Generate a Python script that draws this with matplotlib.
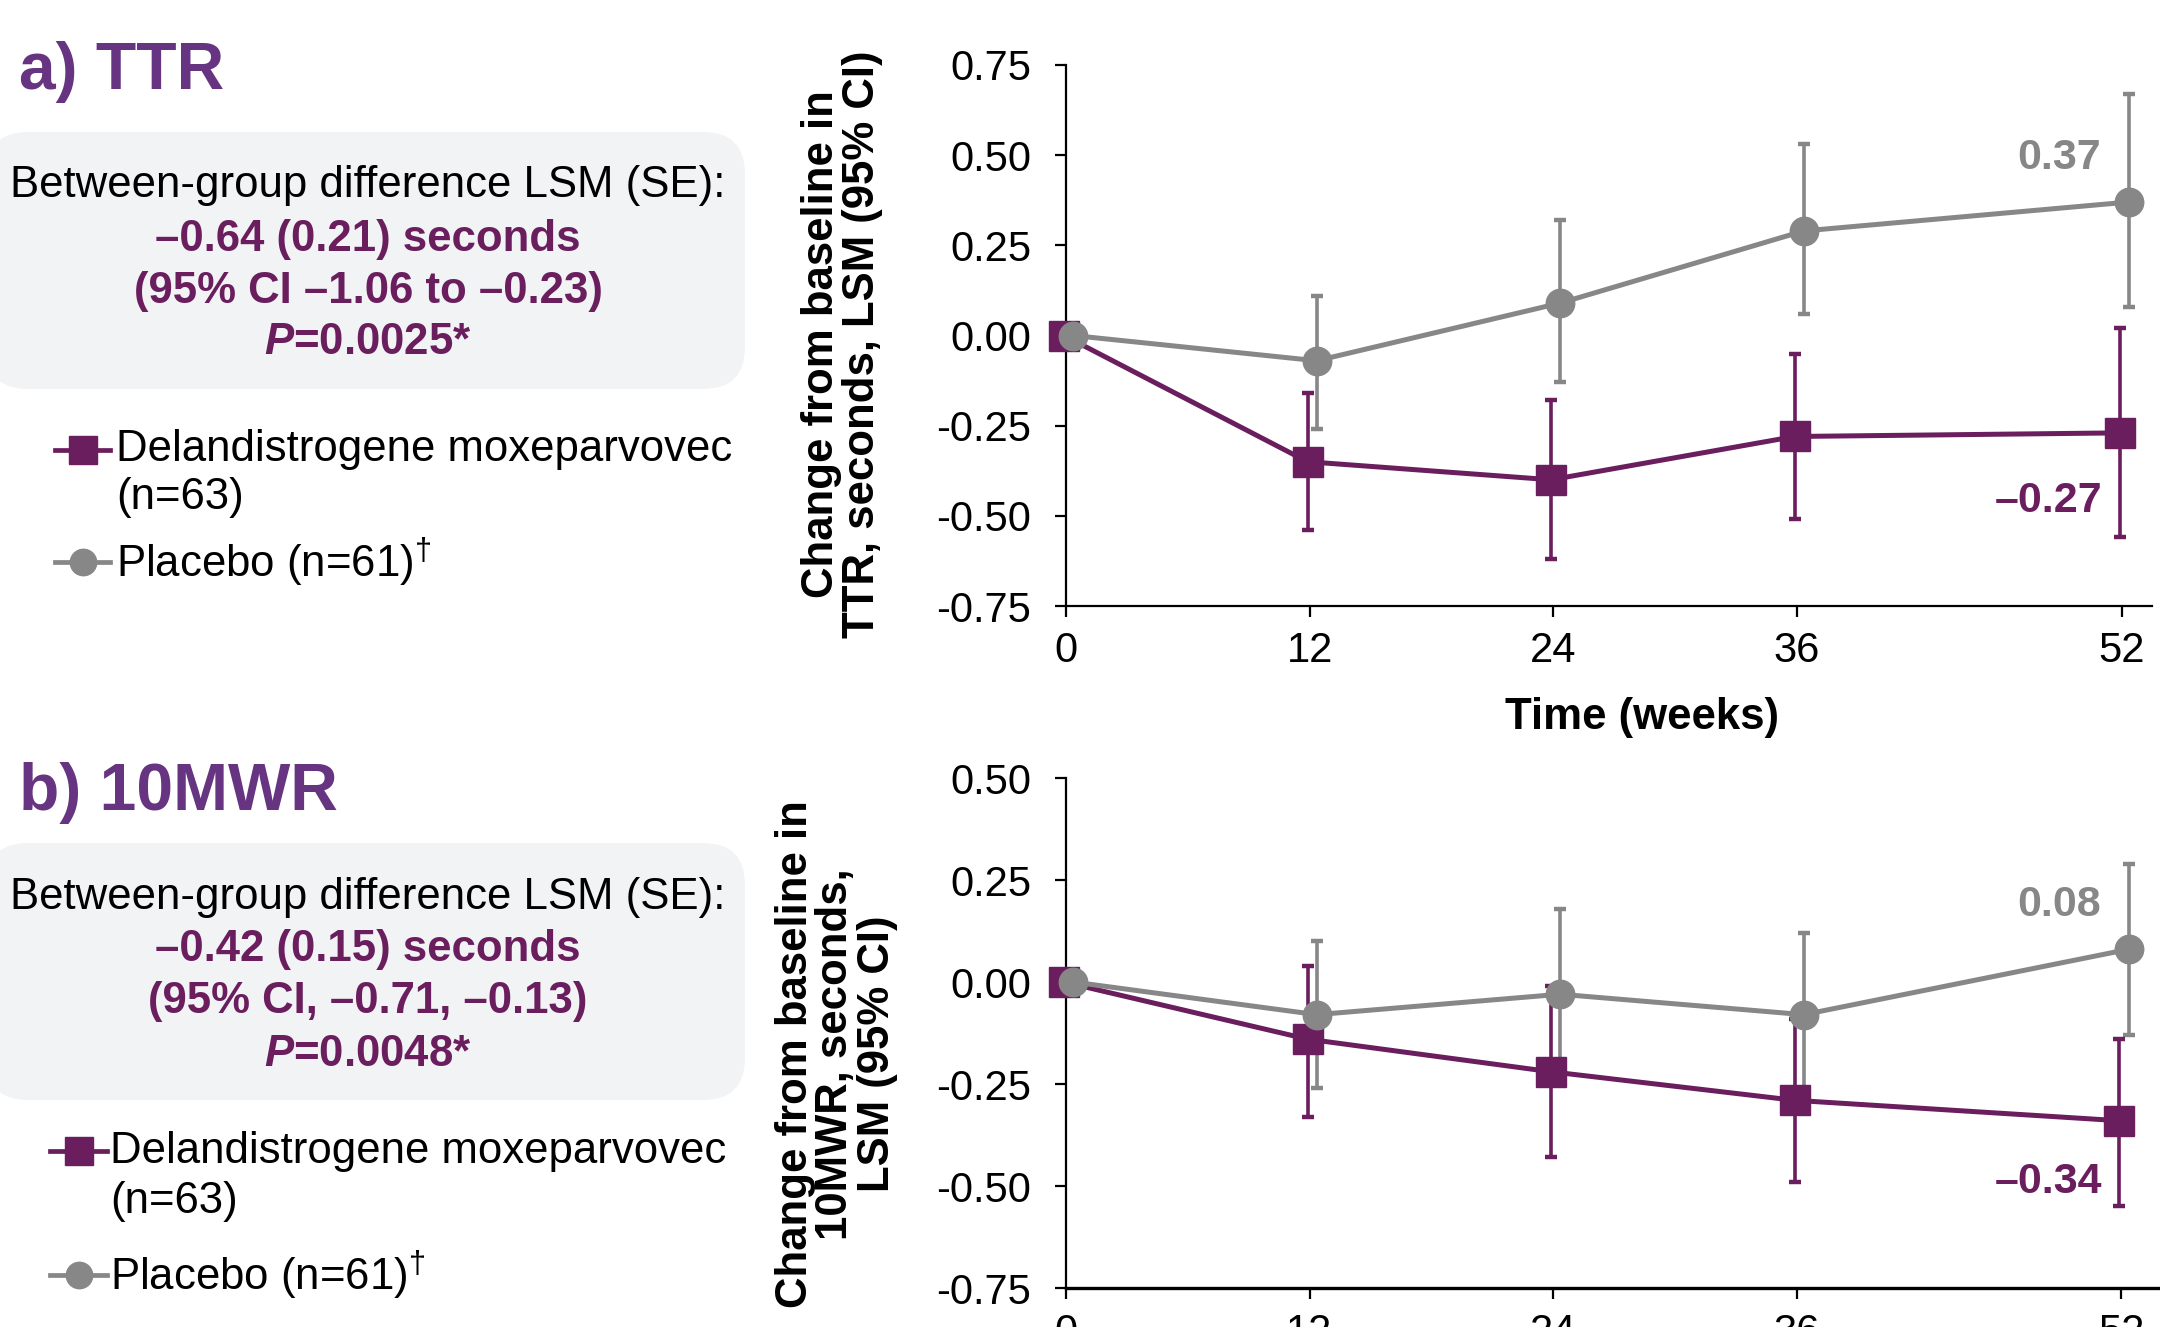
import numpy as np
import matplotlib
matplotlib.use("Agg")
import matplotlib.pyplot as plt
from matplotlib.patches import FancyBboxPatch
from matplotlib.lines import Line2D

plt.rcParams['font.family'] = ['Liberation Sans', 'DejaVu Sans']
plt.rcParams['axes.unicode_minus'] = False
plt.rcParams['mathtext.fontset'] = 'custom'
plt.rcParams['mathtext.rm'] = 'Liberation Sans'
plt.rcParams['mathtext.it'] = 'Liberation Sans:italic:bold'
plt.rcParams['mathtext.bf'] = 'Liberation Sans:bold'

# Data
weeks = [0, 12, 24, 36, 52]
week_ticks = [0, 12, 24, 36, 52]

# a) TTR
ttr_delan = [0.00, -0.35, -0.40, -0.28, -0.27]
ttr_delan_lo = [0.00, -0.54, -0.62, -0.51, -0.56]
ttr_delan_hi = [0.00, -0.16, -0.18, -0.05, 0.02]
ttr_pbo = [0.00, -0.07, 0.09, 0.29, 0.37]
ttr_pbo_lo = [0.00, -0.26, -0.13, 0.06, 0.08]
ttr_pbo_hi = [0.00, 0.11, 0.32, 0.53, 0.67]

# b) 10MWR
mwr_delan = [0.00, -0.14, -0.22, -0.29, -0.34]
mwr_delan_lo = [0.00, -0.33, -0.43, -0.49, -0.55]
mwr_delan_hi = [0.00, 0.04, -0.01, -0.09, -0.14]
mwr_pbo = [0.00, -0.08, -0.03, -0.08, 0.08]
mwr_pbo_lo = [0.00, -0.26, -0.24, -0.26, -0.13]
mwr_pbo_hi = [0.00, 0.10, 0.18, 0.12, 0.29]

ttr_yticks = [0.75, 0.50, 0.25, 0.00, -0.25, -0.50, -0.75]
mwr_yticks = [0.50, 0.25, 0.00, -0.25, -0.50, -0.75]

ttr_box = ["Between-group difference LSM (SE):",
           "\u20130.64 (0.21) seconds",
           "(95% CI \u20131.06 to \u20130.23)",
           "$P$=0.0025*"]
mwr_box = ["Between-group difference LSM (SE):",
           "\u20130.42 (0.15) seconds",
           "(95% CI, \u20130.71, \u20130.13)",
           "$P$=0.0048*"]

PURPLE = '#6A1E5E'
GRAY = '#878787'
TITLE = '#663480'
BOXBG = '#F2F3F5'

W, H = 2160, 1327
fig = plt.figure(figsize=(W / 100, H / 100), dpi=100)

# background axes in pixel coordinates for text and boxes
bg = fig.add_axes([0, 0, 1, 1], zorder=-1)
bg.set_xlim(0, W)
bg.set_ylim(H, 0)
bg.axis('off')


def fmt(v):
    return f"{v:.2f}".replace('-', '\u2013')


def draw_panel(rect, ylim, yticks, d, d_lo, d_hi, p, p_lo, p_hi, xmax, off_p, off_d):
    ax = fig.add_axes(rect)
    x = np.array(weeks, dtype=float)
    xd = x - 0.1
    xp = x + 0.35
    d, d_lo, d_hi = map(np.array, (d, d_lo, d_hi))
    p, p_lo, p_hi = map(np.array, (p, p_lo, p_hi))
    # error bars (skip baseline)
    ax.errorbar(xp[1:], p[1:], yerr=[p[1:] - p_lo[1:], p_hi[1:] - p[1:]], fmt='none',
                ecolor=GRAY, elinewidth=2.6, capsize=4.5, capthick=3.2, zorder=2)
    ax.errorbar(xd[1:], d[1:], yerr=[d[1:] - d_lo[1:], d_hi[1:] - d[1:]], fmt='none',
                ecolor=PURPLE, elinewidth=2.6, capsize=4.5, capthick=3.2, zorder=3)
    ax.plot(xd, d, color=PURPLE, lw=3.6, marker='s', ms=21, zorder=4, clip_on=False)
    ax.plot(xp, p, color=GRAY, lw=3.6, marker='o', ms=20.5, zorder=5, clip_on=False)

    ax.set_xlim(0, xmax)
    ax.set_ylim(*ylim)
    ax.set_xticks(week_ticks)
    ax.set_yticks(yticks)
    ax.set_yticklabels([f"{t:.2f}" for t in yticks])
    for s in ('top', 'right'):
        ax.spines[s].set_visible(False)
    for s in ('left', 'bottom'):
        ax.spines[s].set_linewidth(1.6)
    ax.tick_params(axis='both', labelsize=30, length=8, width=1.6, direction='out')
    ax.tick_params(axis='y', pad=17)
    ax.tick_params(axis='x', pad=10)

    ax.annotate(fmt(p[-1]), xy=(xp[-1], p[-1]), xytext=off_p, textcoords='offset pixels',
                ha='right', va='center', fontsize=31, fontweight='bold', color=GRAY)
    ax.annotate(fmt(d[-1]), xy=(xd[-1], d[-1]), xytext=off_d, textcoords='offset pixels',
                ha='right', va='center', fontsize=31, fontweight='bold', color=PURPLE)
    return ax


def px_rect(x0, y0, x1, y1):
    return [x0 / W, 1 - y1 / H, (x1 - x0) / W, (y1 - y0) / H]


ax1 = draw_panel(px_rect(1066, 65, 2152, 606), (-0.75, 0.75), ttr_yticks,
                 ttr_delan, ttr_delan_lo, ttr_delan_hi, ttr_pbo, ttr_pbo_lo, ttr_pbo_hi,
                 53.5, (-28, 44), (-17, -68))
ax2 = draw_panel(px_rect(1066, 778, 2162, 1288), (-0.75, 0.50), mwr_yticks,
                 mwr_delan, mwr_delan_lo, mwr_delan_hi, mwr_pbo, mwr_pbo_lo, mwr_pbo_hi,
                 54.0, (-28, 44), (-17, -61))
ax2.spines['bottom'].set_linewidth(2.4)

bg.text(1642, 718, "Time (weeks)", ha='center', va='center', fontsize=31.5, fontweight='bold')

bg.text(842, 344, "Change from baseline in\nTTR, seconds, LSM (95% CI)", rotation=90,
        ha='center', va='center', multialignment='center', fontsize=31.5,
        fontweight='bold', linespacing=1.0)
bg.text(836, 1054, "Change from baseline in\n10MWR, seconds,\nLSM (95% CI)", rotation=90,
        ha='center', va='center', multialignment='center', fontsize=31.5,
        fontweight='bold', linespacing=1.0)


def left_block(title, title_y, box_top, box_bot, lines, line_y, leg_x0, leg_x1, leg_tx, leg_y):
    bg.text(19, title_y, title, ha='left', va='center', fontsize=47.5,
            fontweight='bold', color=TITLE)
    bg.add_patch(FancyBboxPatch((-14, box_top), 759, box_bot - box_top,
                                boxstyle="round,pad=0,rounding_size=42",
                                fc=BOXBG, ec='none'))
    bg.text(368, line_y[0], lines[0], ha='center', va='center', fontsize=31.5)
    for t, yy in zip(lines[1:], line_y[1:]):
        bg.text(368, yy, t, ha='center', va='center', fontsize=31.5,
                fontweight='bold', color=PURPLE)
    # legend
    xm = (leg_x0 + leg_x1) / 2
    bg.add_line(Line2D([leg_x0, leg_x1], [leg_y[0]] * 2, color=PURPLE, lw=3.4))
    bg.plot([xm], [leg_y[0]], marker='s', ms=20, color=PURPLE)
    bg.text(leg_tx, leg_y[0], "Delandistrogene moxeparvovec", ha='left', va='center', fontsize=31.5)
    bg.text(leg_tx, leg_y[1], "(n=63)", ha='left', va='center', fontsize=31.5)
    bg.add_line(Line2D([leg_x0, leg_x1], [leg_y[2]] * 2, color=GRAY, lw=3.4))
    bg.plot([xm], [leg_y[2]], marker='o', ms=19, color=GRAY)
    bg.text(leg_tx, leg_y[2], r"Placebo (n=61)$^{\dagger}$", ha='left', va='center', fontsize=31.5)


left_block("a) TTR", 72, 132, 389, ttr_box, [186, 239, 291, 342],
           55, 110, 116, [450, 498, 562])
left_block("b) 10MWR", 793, 843, 1100, mwr_box, [897, 950, 1002, 1054],
           50, 107, 110, [1151, 1202, 1275])

fig.savefig("out.png", dpi=100)
